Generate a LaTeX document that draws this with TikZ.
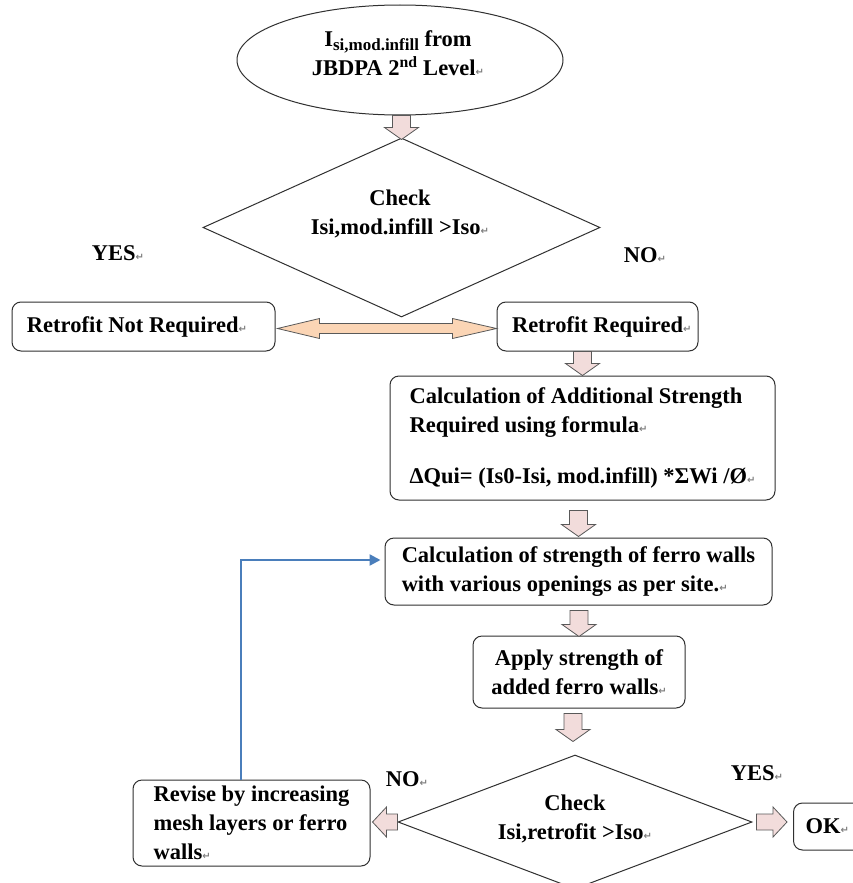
\documentclass[tikz,border=0pt]{standalone}
\usepackage{fontspec}
\setmainfont{Liberation Serif}[BoldFont={Liberation Serif Bold}]
\newfontfamily\symfont{DejaVu Sans}
\usetikzlibrary{shapes.geometric,calc,arrows.meta}
\definecolor{pinkfill}{HTML}{F2DCDB}
\definecolor{peach}{HTML}{FBD5B5}
\definecolor{blueline}{HTML}{4A7EBB}
\definecolor{edge}{HTML}{303030}
\newcommand\pmk{{\symfont\fontsize{10}{10}\selectfont\textcolor{gray}{↵}}}
\newcommand\mysub[1]{\raisebox{-4pt}{\fontsize{17}{17}\selectfont #1}}
\tikzset{
  txt/.style={font=\bfseries\fontsize{22.5}{29}\selectfont},
  box/.style={draw=edge, rounded corners=9pt, line width=1pt, txt, inner ysep=0pt},
  decision/.style={draw=edge, diamond, line width=1pt, inner sep=0pt},
  blockarr/.style={draw=edge!80, fill=pinkfill, line width=0.8pt, line join=miter},
  dblarr/.style={draw=edge!80, fill=peach, line width=0.8pt, line join=miter},
  loopline/.style={draw=blueline, line width=2.4pt, -{Triangle[length=11pt,width=11pt]}}
}
% vertical block arrow: #1 start, #2 tip
\newcommand\blockdown[2]{%
  \draw[blockarr] let \p1=#1, \p2=#2 in
    (\x2-9pt,\y1) -- (\x2-9pt,\y2+12pt) -- (\x2-17pt,\y2+12pt) -- (\x2,\y2)
    -- (\x2+17pt,\y2+12pt) -- (\x2+9pt,\y2+12pt) -- (\x2+9pt,\y1) -- cycle;}
% horizontal block arrow: #1 start, #2 tip, #3 head length signed (14 right, -14 left)
\newcommand\blockh[3]{%
  \draw[blockarr] let \p1=#1, \p2=#2, \n1={#3} in
    (\x1,\y1-8pt) -- ({\x2-\n1*1pt},\y1-8pt) -- ({\x2-\n1*1pt},\y1-15pt) -- (\x2,\y1)
    -- ({\x2-\n1*1pt},\y1+15pt) -- ({\x2-\n1*1pt},\y1+8pt) -- (\x1,\y1+8pt) -- cycle;}
\begin{document}
\begin{tikzpicture}[x=1pt,y=-1pt]
\useasboundingbox (0,0) rectangle (853,883);
\fill[white] (0,0) rectangle (853,883);

% nodes
\node[draw=edge, ellipse, line width=1pt, minimum width=326, minimum height=110,
      inner sep=0pt] (start) at (400,60) {};
\node[txt, align=center] (startt) at (398,53)
      {I\mysub{si,mod.infill} from\\JBDPA 2\textsuperscript{nd} Level\pmk};

\node[decision, minimum width=397, minimum height=179] (d1) at (401.5,227.5) {};
\node[txt, align=center] (d1t) at (400,214) {Check\\Isi,mod.infill >Iso\pmk};

\node[txt] (yes1) at (118,253) {YES\pmk};
\node[txt] (no1) at (645,255) {NO\pmk};

\node[box, minimum height=49, inner xsep=15pt] (rnr) at (143.5,326.5)
      {\makebox[233pt][l]{Retrofit Not Required\pmk}};
\node[box, minimum height=49, inner xsep=15pt] (rr) at (597.5,326.5)
      {\makebox[171pt][l]{Retrofit Required\pmk}};

\node[box, minimum width=385, minimum height=124, align=left] (calc) at (582.5,438)
      {Calculation of Additional Strength\\Required using formula\pmk\\[22pt]
       ΔQui= (Is0-Isi, mod.infill) *ΣWi /Ø\pmk};

\node[box, minimum width=387, minimum height=67, align=left] (strength) at (578.5,571.5)
      {Calculation of strength of ferro walls\\with various openings as per site.\pmk};

\node[box, minimum width=212, minimum height=72, align=center] (apply) at (579,672)
      {Apply strength of\\added ferro walls\pmk};

\node[decision, minimum width=354, minimum height=134] (d2) at (575,822) {};
\node[txt, align=center] (d2t) at (575,819) {Check\\Isi,retrofit >Iso\pmk};

\node[txt] (no2) at (407,779) {NO\pmk};
\node[txt] (yes2) at (757,773) {YES\pmk};

\node[box, minimum width=237, minimum height=86, align=left] (revise) at (251.5,823)
      {Revise by increasing\\mesh layers or ferro\\walls\pmk};

\node[box, minimum height=47, inner xsep=12pt, anchor=west] (ok) at (793,826.5)
      {\makebox[60pt][l]{OK\pmk}};

% block arrows
\blockdown{(start.south)}{($(d1.north)+(0,2)$)}
\blockdown{(rr.south -| calc.north)}{(calc.north)}
\blockdown{($(calc.south)+(0,10)$)}{($(strength.north)+(0,-1)$)}
\blockdown{($(strength.south)+(0,5)$)}{($(apply.north)+(0,1)$)}
\blockdown{($(apply.south)+(0,5)$)}{($(d2.north)+(-2,-13)$)}

\blockh{($(d2.east)+(4,0)$)}{($(ok.west)+(-6,0)$)}{14}
\blockh{(d2.west)}{($(revise.east)+(2,0)$)}{-14}

% double arrow
\draw[dblarr] let \p1=(rnr.east), \p2=(rr.west) in
  (\x1+2pt,\y1-2pt) -- (\x1+44pt,\y1+8pt) -- (\x1+44pt,\y1+3pt) -- (\x2-44pt,\y1+3pt)
  -- (\x2-44pt,\y1+8pt) -- (\x2,\y1-2pt) -- (\x2-44pt,\y1-12pt) -- (\x2-44pt,\y1-7pt)
  -- (\x1+44pt,\y1-7pt) -- (\x1+44pt,\y1-12pt) -- cycle;

% feedback loop
\draw[loopline] ($(revise.north)+(-10.5,0)$) |- ($(strength.west)+(-4,-11.5)$);
\end{tikzpicture}
\end{document}
